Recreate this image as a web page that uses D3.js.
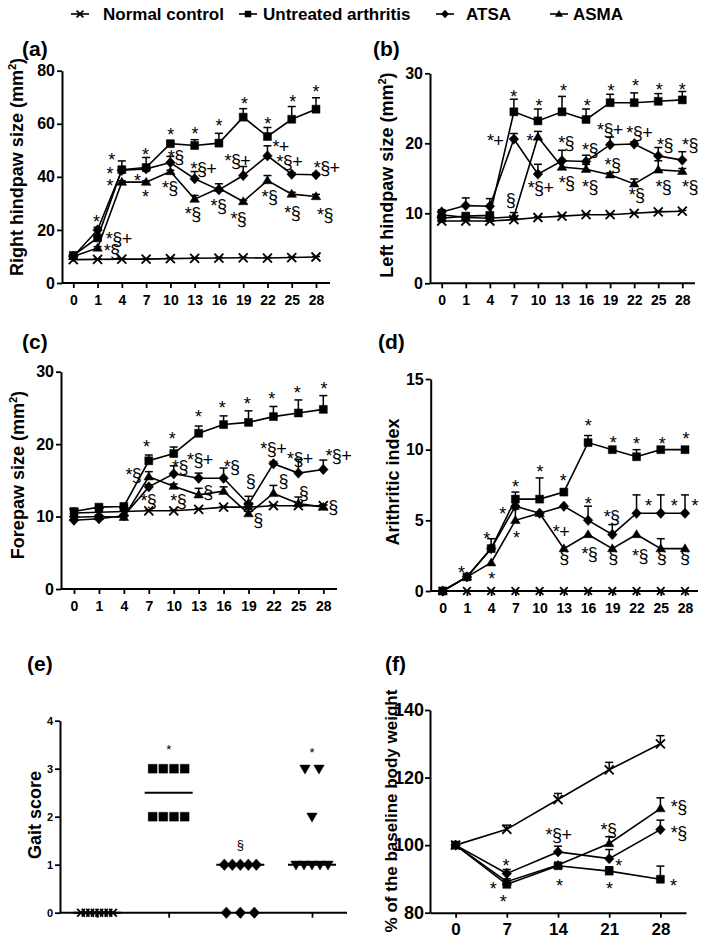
<!DOCTYPE html>
<html><head><meta charset="utf-8">
<script src="https://cdn.jsdelivr.net/npm/d3@7"></script>
<style>body{margin:0;background:#fff} svg{display:block} text{font-family:"Liberation Sans",Arial,Helvetica,sans-serif}</style>
</head><body>
<svg id="c" width="704" height="939"></svg>
<script>
// ---------- DATA ----------
const days = [0,1,4,7,10,13,16,19,22,25,28];
const groups = ["Normal control","Untreated arthritis","ATSA","ASMA"];

// (a) Right hindpaw size
const rhNormal    = [8.8, 8.9, 9.0, 9.0, 9.2, 9.3, 9.4, 9.5, 9.4, 9.6, 9.8];
const rhUntreated = [10.4, 17.0, 42.7, 43.5, 52.5, 51.8, 52.7, 62.5, 55.2, 61.7, 65.5];
const rhATSA      = [10.0, 20.0, 42.5, 43.0, 45.4, 39.3, 35.1, 40.5, 47.9, 41.0, 40.8];
const rhASMA      = [10.0, 13.2, 38.0, 38.0, 42.0, 31.6, 35.7, 30.7, 38.6, 33.5, 32.6];
const rhNormalErr    = [0.2,0.2,0.2,0.2,0.2,0.2,0.2,0.2,0.2,0.2,0.2];
const rhUntreatedErr = [0.3, 0.5, 3.3, 3.8, 0.8, 2.2, 3.7, 3.2, 3.4, 4.8, 4.3];
const rhATSAErr      = [0.3, 1.0, 0.5, 0.5, 2.3, 2.7, 0.5, 3.4, 3.8, 0.5, 0.5];
const rhASMAErr      = [0.3, 0.5, 0.5, 0.5, 0.5, 1.4, 1.7, 0.5, 1.9, 0.7, 0.8];

// (b) Left hindpaw size
const lhNormal    = [8.9, 8.9, 8.9, 9.1, 9.4, 9.6, 9.8, 9.8, 10.0, 10.2, 10.3];
const lhUntreated = [9.3, 9.6, 9.7, 24.5, 23.2, 24.5, 23.4, 25.8, 25.8, 26.0, 26.2];
const lhATSA      = [10.2, 11.1, 11.0, 20.6, 15.6, 17.5, 17.4, 19.8, 19.9, 18.2, 17.6];
const lhASMA      = [9.8, 9.4, 9.3, 9.5, 20.9, 16.6, 16.3, 15.5, 14.2, 16.2, 16.0];
const lhNormalErr    = [0.1,0.1,0.1,0.1,0.1,0.1,0.1,0.1,0.1,0.1,0.1];
const lhUntreatedErr = [0.3, 0.3, 0.3, 1.8, 1.7, 2.2, 1.5, 1.2, 1.4, 1.1, 1.2];
const lhATSAErr      = [0.3, 1.1, 1.1, 0.8, 1.4, 1.5, 0.9, 1.1, 0.3, 1.2, 1.2];
const lhASMAErr      = [0.3, 0.3, 0.3, 0.6, 0.8, 1.0, 0.7, 0.3, 0.7, 1.3, 0.4];

// (c) Forepaw size
const fpNormal    = [10.5, 10.6, 10.7, 10.8, 10.8, 11.0, 11.3, 11.3, 11.5, 11.5, 11.5];
const fpUntreated = [10.7, 11.3, 11.4, 17.7, 18.7, 21.5, 22.7, 23.0, 23.8, 24.3, 24.8];
const fpATSA      = [9.5, 9.7, 10.1, 14.1, 15.9, 15.3, 15.3, 11.7, 17.3, 16.0, 16.5];
const fpASMA      = [9.9, 10.0, 9.9, 15.5, 14.2, 13.0, 13.5, 10.4, 13.2, 11.8, 11.3];
const fpNormalErr    = [0.1,0.1,0.1,0.1,0.1,0.1,0.1,0.1,0.1,0.1,0.1];
const fpUntreatedErr = [0.2, 0.2, 0.2, 0.8, 0.9, 1.0, 1.2, 1.6, 1.4, 1.8, 1.9];
const fpATSAErr      = [0.2, 0.2, 0.2, 0.3, 1.1, 0.7, 1.4, 1.1, 0.3, 1.9, 1.3];
const fpASMAErr      = [0.2, 0.2, 0.2, 0.7, 0.3, 0.9, 0.6, 0.7, 1.1, 0.9, 0.3];

// (d) Arthritic index
const aiNormal    = [0,0,0,0,0,0,0,0,0,0,0];
const aiUntreated = [0, 1, 3, 6.5, 6.5, 7, 10.5, 10, 9.5, 10, 10];
const aiATSA      = [0, 1, 3, 6, 5.5, 6, 5, 4, 5.5, 5.5, 5.5];
const aiASMA      = [0, 1, 2, 5, 5.5, 3, 4, 3, 4, 3, 3];
const aiNormalErr    = [0,0,0,0,0,0,0,0,0,0,0];
const aiUntreatedErr = [0, 0, 0.7, 0.5, 1.5, 0, 0.5, 0, 0.5, 0, 0];
const aiATSAErr      = [0, 0, 0, 0, 0, 0, 1.0, 0.7, 1.3, 1.3, 1.3];
const aiASMAErr      = [0, 0, 0, 0.8, 0, 0, 0, 0, 0, 0.7, 0];

// (e) Gait score (individual animals)
const gaitNormal    = [0,0,0,0,0,0,0,0];
const gaitUntreated = [3,3,3,3,2,2,2,2];
const gaitATSA      = [1,1,1,1,1,0,0,0];
const gaitASMA      = [3,3,2,1,1,1,1,1];
const gaitTicks     = [0,1,2,3,4];

// (f) % of baseline body weight
const bwDays      = [0,7,14,21,28];
const bwNormal    = [100, 104.7, 113.5, 122.3, 130.0];
const bwUntreated = [100, 88.4, 93.9, 92.3, 89.9];
const bwATSA      = [100, 91.6, 98.0, 96.0, 104.6];
const bwASMA      = [100, 89.2, 94.1, 100.5, 110.8];
const bwNormalErr    = [0, 1.2, 1.8, 2.2, 2.4];
const bwUntreatedErr = [0, 0.5, 0.3, 1.3, 3.9];
const bwATSAErr      = [0, 1.2, 1.7, 2.7, 2.8];
const bwASMAErr      = [0, 0.8, 0.3, 2.0, 3.2];

// significance labels: [day index (fractional), value, text]
const annA = [[0.96,24.5,"*"],[1.87,18.2,"*§+"],[1.58,13.8,"*§"],
  [1.58,47.9,"*"],[1.51,42.9,"*"],[1.51,38.2,"*"],
  [2.98,49.9,"*"],[2.65,40.1,"*"],[2.98,33.9,"*"],
  [4.02,57.4,"*"],[4.22,49.2,"*§"],[3.98,37.4,"*§"],
  [5.01,57.7,"*"],[5.36,44.5,"*§+"],[4.92,27.6,"*§"],
  [6.0,60.8,"*"],[5.98,30.7,"*§"],
  [7.05,69.2,"*"],[6.76,47.7,"*§+"],[6.8,25.7,"*§"],
  [8.01,61.4,"*"],[8.54,52.9,"*+"],[8.08,34.2,"*§"],
  [9.04,70,"*"],[8.9,47.3,"*§+"],[9.02,28.2,"*§"],
  [10,73.7,"*"],[10.44,44.8,"*§+"],[10.37,27.2,"*§"]];
const annB = [[3.0,27.2,"*"],[2.22,20.9,"*+"],[2.87,11.7,"§"],
  [4.04,26,"*"],[3.67,21,"*"],[4.11,14.2,"*§+"],
  [5.06,28.1,"*"],[5.17,20.7,"*§"],[5.19,14.9,"*§"],
  [6.05,26,"*"],[6.16,19.7,"*§"],[6.16,14.4,"*§"],
  [7.04,28.1,"*"],[6.99,22.5,"*§+"],[7.1,17.5,"*§"],
  [8.05,28.8,"*"],[8.21,22.1,"*§+"],[8.1,13.3,"*§"],
  [9.04,28.2,"*"],[9.28,20.4,"*§"],[9.21,14.4,"*§"],
  [10,28.3,"*"],[10.32,20.4,"*§"],[10.32,14.4,"*§"]];
const annC = [[2.91,20.2,"*"],[2.38,16.4,"*§"],[2.98,12.7,"*§"],
  [3.94,21.3,"*"],[4.25,17.5,"*§"],[4.18,12.7,"*§"],
  [4.99,24.3,"*"],[5.05,18.4,"*§+"],[5.39,13.2,"§"],
  [5.95,25.6,"*"],[6.32,17.5,"*§"],
  [6.95,26.2,"*"],[7.09,14.7,"§"],[7.39,9.3,"§"],
  [7.93,26.8,"*"],[7.99,19.9,"*§+"],[8.4,14.7,"§"],
  [8.96,27.6,"*"],[9.06,18.6,"*§+"],[9.22,13.1,"§"],
  [10.03,28.2,"*"],[10.6,18.9,"*§+"],[10.4,11.1,"§"]];
const annD = [[0.78,1.6,"*"],[1.82,4.0,"*"],[2.02,1.13,"*"],
  [3.01,7.67,"*"],[2.48,5.78,"*"],[3.05,4.08,"*"],
  [4.02,8.73,"*"],
  [4.98,8.1,"*"],[4.88,4.48,"*+"],[5.02,2.31,"§"],
  [6.01,12,"*"],[6.01,6.49,"*"],[6.05,2.95,"*§"],
  [7.04,10.8,"*"],[6.97,5.57,"*§"],[7.04,2.31,"§"],
  [8.0,10.68,"*"],[8.49,6.32,"*"],[8.14,2.78,"*§"],
  [9.06,10.73,"*"],[9.56,6.32,"*"],[9.04,2.31,"§"],
  [10.04,11.04,"*"],[10.41,6.32,"*"],[10.0,2.31,"§"]];
const annE = [[1,3.46,"*"],[2,1.41,"§"],[3,3.39,"*"]];
const annF = [[6.9,95.1,"*"],[5.16,88.2,"*"],[6.53,84.4,"*"],
  [14.06,104.4,"*§+"],[14.2,89.2,"*"],
  [20.9,105.9,"*§"],[22.3,95.1,"*"],[21.05,88.2,"*"],
  [30.5,112.6,"*§"],[30.5,104.9,"*§"],[29.8,89.2,"*"]];

// ---------- DRAWING ----------
const svg = d3.select("#c");
const FONT = '"Liberation Sans",Arial,Helvetica,sans-serif';

function shapePath(type, k) {
  k = k || 1;
  if (type === "square") { const s = 8*k; return `M${-s/2},${-s/2}h${s}v${s}h${-s}Z`; }
  if (type === "diamond") { const w = 4.8*k, h = 5.2*k; return `M0,${-h}L${w},0L0,${h}L${-w},0Z`; }
  if (type === "triangle") { const w = 4.8*k, h = 8*k; return `M0,${-h*0.6}L${w},${h*0.4}L${-w},${h*0.4}Z`; }
  if (type === "tridown") { const w = 5.2*k, h = 9*k; return `M0,${h*0.6}L${w},${-h*0.4}L${-w},${-h*0.4}Z`; }
  if (type === "x") { const a = 4.5*k; return `M${-a},${-a}L${a},${a}M${-a},${a}L${a},${-a}`; }
}
function drawMarker(g, type, x, y, k) {
  const p = g.append("path").attr("d", shapePath(type, k)).attr("transform", `translate(${x},${y})`);
  if (type === "x") p.attr("fill","none").attr("stroke","#000").attr("stroke-width",1.8);
  else p.attr("fill","#000").attr("stroke","#000").attr("stroke-width",0.5);
}
function styleAxis(sel, fs) {
  sel.attr("font-family", FONT).attr("font-size", fs).attr("font-weight","bold");
  sel.selectAll("path.domain").attr("stroke","#000").attr("stroke-width",2);
  sel.selectAll(".tick line").attr("stroke","#000").attr("stroke-width",1.8);
  sel.selectAll(".tick text").attr("fill","#000");
}
function panelLabel(txt, x, y) {
  svg.append("text").attr("x",x).attr("y",y).attr("font-size",21).attr("font-weight","bold").text(txt);
}
function yTitle(parts, x, yc, fs) {
  const t = svg.append("text").attr("transform",`translate(${x},${yc}) rotate(-90)`)
    .attr("text-anchor","middle").attr("dominant-baseline","central")
    .attr("font-size",fs||18).attr("font-weight","bold");
  t.append("tspan").text(parts[0]);
  if (parts.length > 1) {
    t.append("tspan").attr("dy","-0.45em").attr("font-size","0.62em").text("2");
    t.append("tspan").attr("dy","0.28em").text(parts[1]);
  }
}
function annotate(g, list, xf, y, fs) {
  list.forEach(([xi, v, txt]) => {
    const off = txt[0] === "§" ? 0.27 : 0.575;
    g.append("text").attr("x", xf(xi)).attr("y", y(v) + off*fs)
      .attr("text-anchor","middle").attr("font-size",fs)
      .attr("letter-spacing", txt.length > 1 ? "-0.6px" : null)
      .attr("fill","#000").text(txt);
  });
}
function errBars(g, xs, vals, errs, y) {
  vals.forEach((v,i) => {
    const e = errs[i]; if (!e || e < 0.25*(y.domain()[1]-y.domain()[0])/100) return;
    const x = xs[i], y0 = y(v), y1 = y(v+e);
    g.append("line").attr("x1",x).attr("x2",x).attr("y1",y0).attr("y2",y1).attr("stroke","#000").attr("stroke-width",1.5);
    g.append("line").attr("x1",x-4).attr("x2",x+4).attr("y1",y1).attr("y2",y1).attr("stroke","#000").attr("stroke-width",1.5);
  });
}

function linePanel(cfg) {
  const g = svg.append("g");
  const x = d3.scalePoint().domain(days).range([cfg.x0, cfg.x1]);
  const xi = d3.scaleLinear().domain([0, days.length-1]).range([cfg.x0, cfg.x1]);
  const y = d3.scaleLinear().domain(cfg.yDomain).range([cfg.yB, cfg.yT]);
  const xs = days.map(d => x(d));
  const ya = g.append("g").attr("transform",`translate(${cfg.ax},0)`)
    .call(d3.axisLeft(y).tickValues(cfg.yTicks).tickFormat(d3.format("d")).tickSize(5).tickPadding(2).tickSizeOuter(0));
  styleAxis(ya, 16);
  const xa = g.append("g").attr("transform",`translate(0,${cfg.yB})`)
    .call(d3.axisBottom(x).tickSize(5).tickPadding(7).tickSizeOuter(0));
  styleAxis(xa, 14);
  xa.select("path.domain").remove();
  g.append("line").attr("x1",cfg.ax).attr("x2",cfg.axR).attr("y1",cfg.yB).attr("y2",cfg.yB).attr("stroke","#000").attr("stroke-width",2);
  const line = d3.line().x((d,i) => xs[i]).y(d => y(d));
  cfg.series.forEach(s => {
    g.append("path").attr("d", line(s.v)).attr("fill","none").attr("stroke","#000").attr("stroke-width",1.6);
  });
  cfg.series.forEach(s => errBars(g, xs, s.v, s.e, y));
  cfg.series.forEach(s => s.v.forEach((v,i) => drawMarker(g, s.shape, xs[i], y(v), s.k)));
  annotate(g, cfg.ann, xi, y, 18);
}

linePanel({x0:73.3, x1:316, ax:62, axR:330, yT:70.7, yB:283, yDomain:[0,80], yTicks:[0,20,40,60,80],
  series:[{v:rhNormal,e:rhNormalErr,shape:"x"},{v:rhUntreated,e:rhUntreatedErr,shape:"square"},
          {v:rhATSA,e:rhATSAErr,shape:"diamond"},{v:rhASMA,e:rhASMAErr,shape:"triangle"}], ann:annA});
linePanel({x0:441.7, x1:682.3, ax:430, axR:695, yT:73.3, yB:283.3, yDomain:[0,30], yTicks:[0,10,20,30],
  series:[{v:lhNormal,e:lhNormalErr,shape:"x"},{v:lhUntreated,e:lhUntreatedErr,shape:"square"},
          {v:lhATSA,e:lhATSAErr,shape:"diamond"},{v:lhASMA,e:lhASMAErr,shape:"triangle"}], ann:annB});
linePanel({x0:74, x1:323.3, ax:61, axR:337, yT:371.7, yB:589, yDomain:[0,30], yTicks:[0,10,20,30],
  series:[{v:fpNormal,e:fpNormalErr,shape:"x"},{v:fpUntreated,e:fpUntreatedErr,shape:"square"},
          {v:fpATSA,e:fpATSAErr,shape:"diamond"},{v:fpASMA,e:fpASMAErr,shape:"triangle"}], ann:annC});
linePanel({x0:442.7, x1:685, ax:430.7, axR:698, yT:379, yB:591, yDomain:[0,15], yTicks:[0,5,10,15],
  series:[{v:aiNormal,e:aiNormalErr,shape:"x",k:0.85},{v:aiUntreated,e:aiUntreatedErr,shape:"square"},
          {v:aiATSA,e:aiATSAErr,shape:"diamond"},{v:aiASMA,e:aiASMAErr,shape:"triangle"}], ann:annD});

// (e) scatter dot plot
(function(){
  const g = svg.append("g");
  const gx = d3.scalePoint().domain(groups).range([97, 312]);
  const gi = d3.scaleLinear().domain([0,3]).range([97,312]);
  const y = d3.scaleLinear().domain([0,4]).range([912.7, 720.7]);
  const ya = g.append("g").attr("transform","translate(60,0)")
    .call(d3.axisLeft(y).tickValues(gaitTicks).tickFormat(d3.format("d")).tickSize(5).tickPadding(2).tickSizeOuter(0));
  styleAxis(ya, 11);
  const xa = g.append("g").attr("transform","translate(0,912.7)")
    .call(d3.axisBottom(gx).tickSize(5).tickFormat("").tickSizeOuter(0));
  styleAxis(xa, 11);
  xa.select("path.domain").remove();
  g.append("line").attr("x1",60).attr("x2",347).attr("y1",912.7).attr("y2",912.7).attr("stroke","#000").attr("stroke-width",2);
  const sets = [[gaitNormal,"x",0.85],[gaitUntreated,"square",1.1],[gaitATSA,"diamond",1.1],[gaitASMA,"tridown",1]];
  sets.forEach(([vals, shape, k], gidx) => {
    const cx = gx(groups[gidx]);
    const med = d3.median(vals);
    g.append("line").attr("x1",cx-24).attr("x2",cx+24).attr("y1",y(med)).attr("y2",y(med)).attr("stroke","#000").attr("stroke-width",2);
    const byVal = d3.group(vals, v => v);
    byVal.forEach((arr, v) => {
      const n = arr.length;
      const sp = n > 1 ? Math.min(14, 32/(n-1)) : 0;
      arr.forEach((_, j) => drawMarker(g, shape, cx + (j-(n-1)/2)*sp, y(v), k));
    });
  });
  annotate(g, annE, gi, y, 13);
})();

// (f) body weight
(function(){
  const g = svg.append("g");
  const x = d3.scaleLinear().domain([-3.5, 31.5]).range([430, 686]);
  const y = d3.scaleLinear().domain([80,140]).range([912.7, 710]);
  const ya = g.append("g").attr("transform","translate(430,0)")
    .call(d3.axisLeft(y).tickValues([80,100,120,140]).tickSize(5).tickPadding(1).tickSizeOuter(0));
  styleAxis(ya, 18);
  const xa = g.append("g").attr("transform","translate(0,912.7)")
    .call(d3.axisBottom(x).tickValues(bwDays).tickSize(5).tickPadding(5).tickSizeOuter(0));
  styleAxis(xa, 17);
  const xs = bwDays.map(d => x(d));
  const series = [{v:bwNormal,e:bwNormalErr,shape:"x"},{v:bwUntreated,e:bwUntreatedErr,shape:"square"},
                  {v:bwATSA,e:bwATSAErr,shape:"diamond"},{v:bwASMA,e:bwASMAErr,shape:"triangle"}];
  const line = d3.line().x((d,i) => xs[i]).y(d => y(d));
  series.forEach(s => g.append("path").attr("d", line(s.v)).attr("fill","none").attr("stroke","#000").attr("stroke-width",1.6));
  series.forEach(s => errBars(g, xs, s.v, s.e, y));
  series.forEach(s => s.v.forEach((v,i) => drawMarker(g, s.shape, xs[i], y(v))));
  annotate(g, annF, x, y, 18);
})();

// panel labels & axis titles
panelLabel("(a)", 22, 56); panelLabel("(b)", 373, 56);
panelLabel("(c)", 22, 349); panelLabel("(d)", 378, 349);
panelLabel("(e)", 27, 671); panelLabel("(f)", 385, 671);
yTitle(["Right hindpaw size (mm", ")"], 17, 167);
yTitle(["Left hindpaw size (mm", ")"], 387, 175);
yTitle(["Forepaw size (mm", ")"], 18, 475);
yTitle(["Arithritic index"], 393, 482);
yTitle(["Gait score"], 35, 815);
yTitle(["% of the baseline body weight"], 391, 811, 17);

// legend
const legendX = [80, 248, 445, 559];
const legendTextX = [103, 263, 466, 573];
const legendShapes = ["x","square","diamond","triangle"];
groups.forEach((name, i) => {
  svg.append("line").attr("x1",legendX[i]-9).attr("x2",legendX[i]+9).attr("y1",14).attr("y2",14).attr("stroke","#000").attr("stroke-width",1.6);
  drawMarker(svg, legendShapes[i], legendX[i], 14, 0.75);
  svg.append("text").attr("x",legendTextX[i]).attr("y",14).attr("dominant-baseline","central")
    .attr("font-size",17).attr("font-weight","bold").text(name);
});
</script>
</body></html>
